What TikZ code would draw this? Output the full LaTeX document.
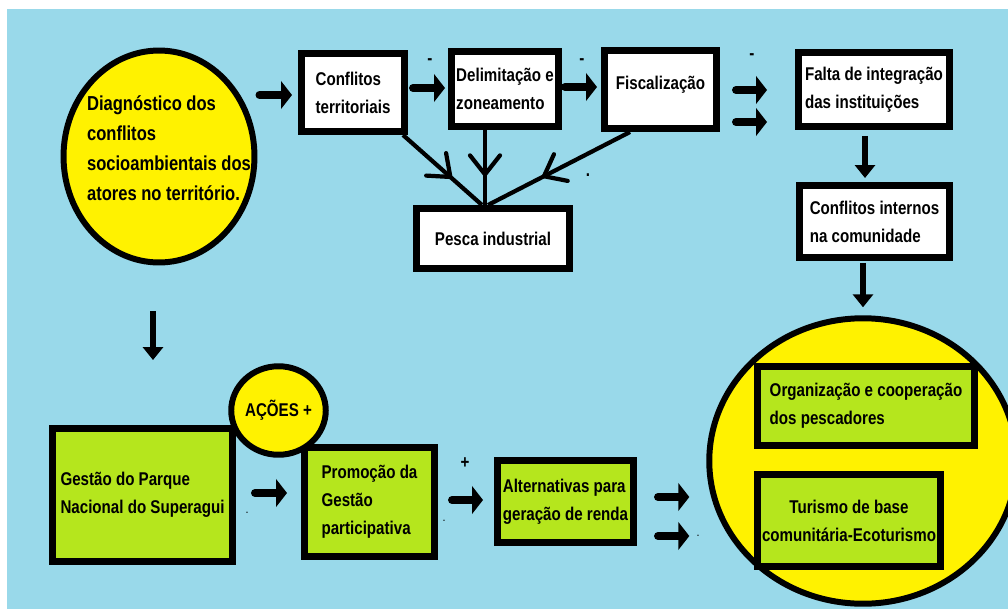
\documentclass[tikz,border=0pt]{standalone}
\usepackage{fontspec}
\setmainfont{Liberation Sans}[FakeStretch=0.82]
\usetikzlibrary{shapes.geometric,arrows.meta,decorations.markings}

\definecolor{paintblue}{RGB}{153,217,234}
\definecolor{paintyellow}{RGB}{255,242,0}
\definecolor{paintlime}{RGB}{181,230,29}

\tikzset{
  box/.style={draw, line width=3.7pt, fill=white, align=left, inner sep=0pt,
    font=\bfseries\fontsize{10.5}{16}\selectfont},
  greenbox/.style={box, fill=paintlime},
  oval/.style={ellipse, draw, line width=3.4pt, fill=paintyellow, inner sep=0pt,
    font=\bfseries\fontsize{10.5}{16}\selectfont},
  diagtext/.style={align=left, font=\bfseries\fontsize{11.5}{17}\selectfont},
  arr/.style={line width=4.5pt, line cap=round, -{Triangle[length=0.22cm,width=0.55cm]}},
  darr/.style={line width=3.2pt, -{Triangle[length=0.26cm,width=0.4cm]}},
  midarr/.style={line width=2.4pt, postaction={decorate},
    decoration={markings, mark=at position 0.62 with {\arrow{Straight Barb[length=0.38cm,width=0.6cm,round]}}}},
  sign/.style={inner sep=0pt, font=\bfseries\fontsize{10.5}{12}\selectfont},
  speck/.style={inner sep=0pt, font=\bfseries\tiny}
}

\begin{document}
\begin{tikzpicture}[x=0.02cm, y=-0.02cm]
  \useasboundingbox (0,0) rectangle (1008,609);
  \begin{scope}
    \clip (0,0) rectangle (1008,609);
    \fill[white] (0,0) rectangle (1008,609);
    \fill[paintblue] (7,9) rectangle (1008,609);

    % top row
    \node (diag) [oval, minimum width=3.82cm, minimum height=4.24cm,
      label={[diagtext, xshift=0.2cm, yshift=0.17cm]center:{Diagnóstico dos\\conflitos\\socioambientais dos\\atores no território.}}]
      at (159,156.5) {};
    \node (conf) [box, minimum width=2.07cm, minimum height=1.57cm] at (353,92.5) {Conflitos\\territoriais};
    \node (delim) [box, minimum width=2.15cm, minimum height=1.51cm] at (505,89) {Delimitação e\\zoneamento};
    \node (fisc) [box, minimum width=2.25cm, minimum height=1.57cm] at (660.5,89.5) {\raisebox{0.26cm}{Fiscalização}};
    \node (falta) [box, minimum width=3.03cm, minimum height=1.49cm] at (874,89.5) {Falta de integração\\das instituições};
    \node (intern) [box, minimum width=3.01cm, minimum height=1.45cm] at (874.5,221.5) {Conflitos internos\\na comunidade};
    \node (pesca) [box, align=center, minimum width=3.07cm, minimum height=1.21cm] at (493,238.5) {Pesca industrial};

    \draw[midarr] (conf.south -| 403,0) -- (pesca.north -| 482,0);
    \draw[midarr] (delim.south -| 485,0) -- (pesca.north -| 485,0);
    \draw[midarr] (fisc.south -| 630,0) -- (pesca.north -| 488,0);

    \draw[arr, shorten <=0.04cm, shorten >=0.12cm] (diag.east |- 0,95) -- (conf.west |- 0,95);
    \draw[arr, shorten <=0.1cm, shorten >=0.06cm] (conf.east |- 0,88) -- (delim.west |- 0,88);
    \draw[arr, shorten <=0.06cm, shorten >=0.08cm] (delim.east |- 0,87) -- (fisc.west |- 0,87);
    \draw[arr, shorten <=0.32cm, shorten >=0.56cm] (fisc.east |- 0,90) -- (falta.west |- 0,90);
    \draw[arr, shorten <=0.32cm, shorten >=0.56cm] (fisc.east |- 0,122) -- (falta.west |- 0,122);
    \draw[darr, shorten <=0.12cm, shorten >=0.08cm] (falta.south -| 865,0) -- (intern.north -| 865,0);

    \node (minus1) [sign] at (430,62) {-};
    \node (minus2) [sign] at (582,62) {-};
    \node (minus3) [sign] at (752,57) {-};
    \node (dot1) [sign] at (588,175) {.};

    % bottom row
    \node (gestao) [greenbox, minimum width=3.61cm, minimum height=2.67cm] at (142.5,495) {Gestão do Parque\\Nacional do Superagui};
    \node (promo) [greenbox, minimum width=2.61cm, minimum height=2.19cm] at (369.5,502) {Promoção da\\Gestão\\participativa};
    \node (acoes) [oval, minimum width=1.85cm, minimum height=1.77cm] at (278.5,410.5) {AÇÕES +};
    \node (alt) [greenbox, minimum width=2.73cm, minimum height=1.65cm] at (565.5,501.5) {Alternativas para\\geração de renda};

    \node (result) [oval, minimum width=6.15cm, minimum height=5.71cm] at (863,461) {};
    \node (org) [greenbox, minimum width=4.35cm, minimum height=1.59cm] at (866,406) {Organização e cooperação\\dos pescadores};
    \node (tur) [greenbox, align=center, minimum width=3.67cm, minimum height=1.85cm] at (849,520.5) {Turismo de base\\comunitária-Ecoturismo};

    \draw[darr, shorten <=0.92cm, shorten >=1.3cm] (diag.south -| 153,0) -- (gestao.north -| 153,0);
    \draw[darr, shorten <=0.04cm, shorten >=0.16cm] (intern.south -| 863,0) -- (result.north -| 863,0);
    \draw[arr, shorten <=0.38cm, shorten >=0.28cm] (gestao.east |- 0,493) -- (promo.west |- 0,493);
    \draw[arr, shorten <=0.28cm, shorten >=0.22cm] (promo.east |- 0,500) -- (alt.west |- 0,500);
    \draw[arr, shorten <=0.42cm, shorten >=0.34cm] (alt.east |- 0,497) -- (result.west |- 0,497);
    \draw[arr, shorten <=0.42cm, shorten >=0.34cm] (alt.east |- 0,536) -- (result.west |- 0,536);

    \node (plus1) [sign] at (465,463) {+};
    \node (speck1) [speck] at (247,513) {.};
    \node (speck2) [speck] at (444,521) {.};
    \node (speck3) [speck] at (698,536) {.};
  \end{scope}
\end{tikzpicture}
\end{document}
